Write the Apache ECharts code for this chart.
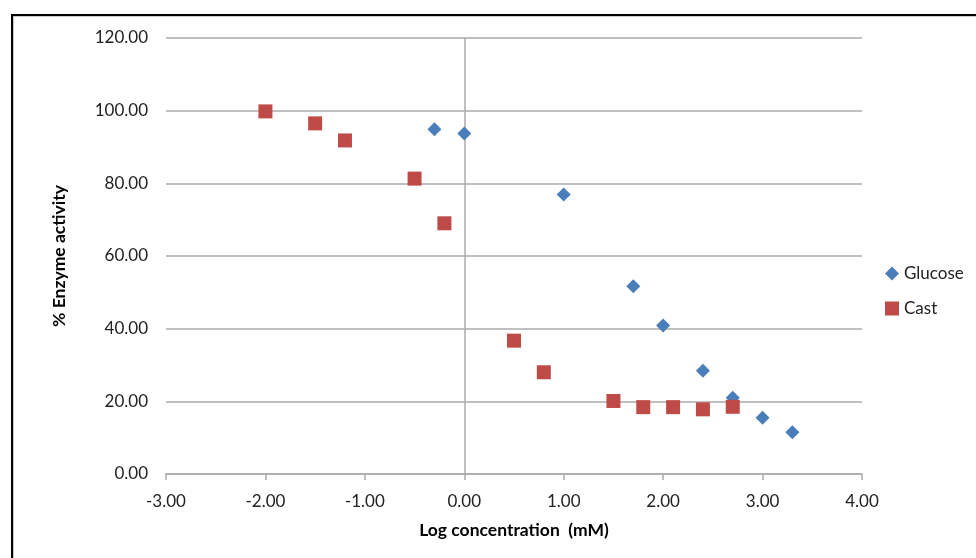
<!DOCTYPE html>
<html>
<head>
<meta charset="utf-8">
<script src="https://cdn.jsdelivr.net/npm/echarts@6/dist/echarts.min.js"></script>
<style>
  html, body { margin: 0; padding: 0; background: #fff; overflow: hidden; }
  #frame { position: absolute; left: 11px; top: 14px; width: 1100px; height: 700px;
           border-left: 2px solid #000; border-top: 2px solid #000; }
  #frame2 { position: absolute; left: 0; top: 0; width: 100%; height: 100%;
            border-left: 1px solid #c8c8c8; border-top: 1px solid #c8c8c8; }
  #chart { position: absolute; left: 0; top: 0; width: 976px; height: 558px; }
</style>
</head>
<body>
<div id="frame"><div id="frame2"></div></div>
<div id="chart"></div>
<script>
// Data
const seriesNames = ["Glucose", "Cast"];
const glucoseX = [-0.3, 0.0, 1.0, 1.7, 2.0, 2.4, 2.7, 3.0, 3.3];
const glucoseY = [94.9, 93.7, 76.9, 51.7, 40.9, 28.4, 21.0, 15.5, 11.5];
const castX = [-2.0, -1.5, -1.2, -0.5, -0.2, 0.5, 0.8, 1.5, 1.8, 2.1, 2.4, 2.7];
const castY = [99.8, 96.5, 91.8, 81.3, 69.0, 36.7, 28.0, 20.1, 18.4, 18.4, 17.8, 18.5];
const xAxisTitle = "Log concentration  (mM)";
const yAxisTitle = "% Enzyme activity";

const FONT = "Lato, 'Open Sans', sans-serif";
const GRID_COLOR = "#ababab";

function pairs(xs, ys) { return xs.map((x, i) => [x, ys[i]]); }

const chart = echarts.init(document.getElementById('chart'), null, { renderer: 'canvas' });
chart.setOption({
  animation: false,
  backgroundColor: 'transparent',
  textStyle: { fontFamily: FONT },
  grid: { left: 166, right: 114, top: 38, bottom: 84, containLabel: false },
  legend: {
    orient: 'vertical',
    left: 880,
    top: 260,
    itemWidth: 14,
    itemHeight: 14,
    itemGap: 18,
    textStyle: { fontFamily: FONT, fontSize: 17, color: '#222' },
    data: [
      { name: seriesNames[0], icon: 'diamond' },
      { name: seriesNames[1], icon: 'rect' }
    ]
  },
  xAxis: {
    type: 'value',
    min: -3, max: 4, interval: 1,
    name: xAxisTitle,
    nameLocation: 'middle',
    nameGap: 47,
    nameTextStyle: { fontFamily: FONT, fontSize: 17.5, fontWeight: 'bold', color: '#000' },
    axisLine: { show: true, onZero: false, lineStyle: { color: GRID_COLOR, width: 1.5 } },
    axisTick: { show: true, inside: false, length: 6, lineStyle: { color: GRID_COLOR, width: 1.5 } },
    axisLabel: { fontFamily: FONT, fontSize: 17, color: '#222', margin: 19,
                 formatter: v => v.toFixed(2) },
    splitLine: { show: false }
  },
  yAxis: {
    type: 'value',
    min: 0, max: 120, interval: 20,
    name: yAxisTitle,
    nameLocation: 'middle',
    nameGap: 98,
    nameTextStyle: { fontFamily: FONT, fontSize: 17.5, fontWeight: 'bold', color: '#000' },
    axisLine: { show: false },
    axisTick: { show: false },
    axisLabel: { fontFamily: FONT, fontSize: 17, color: '#222', margin: 18,
                 formatter: v => v.toFixed(2) },
    splitLine: { show: true, lineStyle: { color: GRID_COLOR, width: 1.5 } }
  },
  series: [
    {
      name: seriesNames[0],
      type: 'scatter',
      symbol: 'diamond',
      symbolSize: 14,
      itemStyle: { color: '#4A7EBB', opacity: 1 },
      data: pairs(glucoseX, glucoseY),
      z: 3,
      markLine: {
        silent: true,
        symbol: 'none',
        label: { show: false },
        lineStyle: { color: GRID_COLOR, width: 1.5, type: 'solid' },
        data: [{ xAxis: 0 }],
        z: 1
      }
    },
    {
      name: seriesNames[1],
      type: 'scatter',
      symbol: 'rect',
      symbolSize: 14,
      itemStyle: { color: '#BE4B48', opacity: 1 },
      data: pairs(castX, castY),
      z: 4
    }
  ]
});
</script>
</body>
</html>
